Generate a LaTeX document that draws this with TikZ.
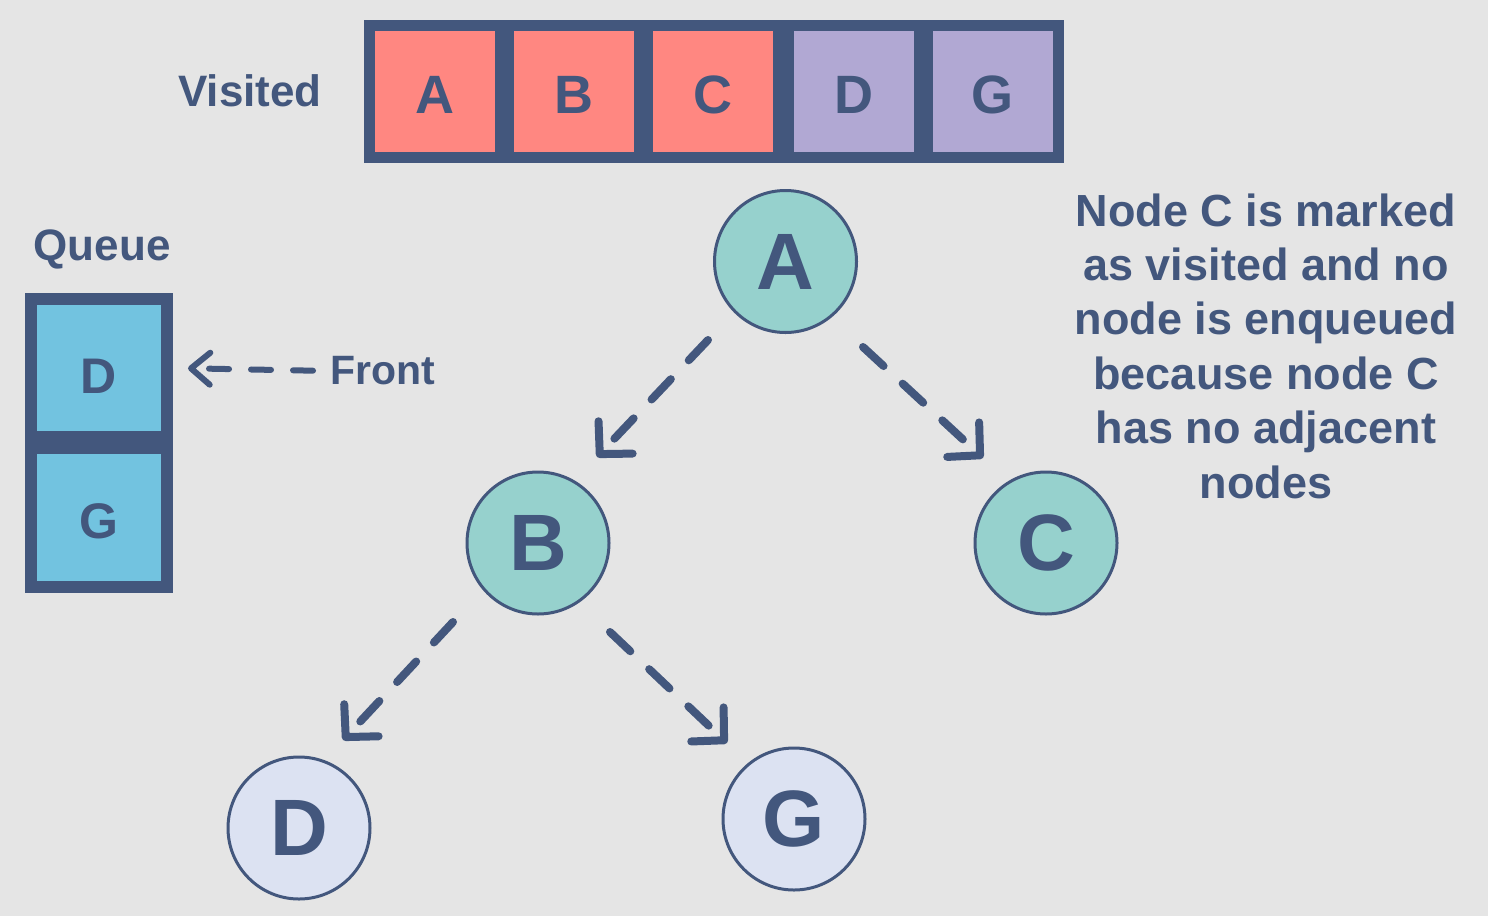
\documentclass[tikz,border=0pt]{standalone}
\usepackage{fontspec}
\setmainfont{Liberation Sans}
\usetikzlibrary{arrows.meta,calc}

\definecolor{ink}{HTML}{43577D}
\definecolor{paper}{HTML}{E5E5E5}
\definecolor{visitedred}{HTML}{FF8781}
\definecolor{visitedpurple}{HTML}{B1A8D3}
\definecolor{queuecyan}{HTML}{72C3E0}
\definecolor{treeteal}{HTML}{96D1CD}
\definecolor{treepale}{HTML}{DCE2F2}

\newcommand{\fsz}[1]{\fontsize{#1}{#1}\selectfont\bfseries}

\tikzset{
  vbox/.style={draw=ink, line width=11pt, minimum width=131pt, minimum height=132pt,
    inner sep=0pt, text=ink, font=\fsz{54}, text height=44pt, text depth=0pt},
  qbox/.style={draw=ink, line width=12pt, minimum width=136pt, minimum height=138pt,
    inner sep=0pt, text=ink, font=\fsz{50}, text depth=0pt},
  treenode/.style={circle, draw=ink, line width=3pt, minimum size=142pt,
    inner sep=0pt, text=ink, font=\fsz{80}},
  caption/.style={text=ink, inner sep=0pt},
  treeedge/.style={draw=ink, line width=8pt, line cap=round, dash pattern=on 28pt off 26pt,
    -{Straight Barb[length=23pt, width=47pt, round]}},
  frontedge/.style={draw=ink, line width=6pt, line cap=round, dash pattern=on 20pt off 22pt,
    -{Straight Barb[length=19pt, width=32pt, round]}},
}

\begin{document}
\begin{tikzpicture}[x=1pt, y=-1pt]
  \fill[paper] (0,0) rectangle (1488,916);
  \useasboundingbox (0,0) rectangle (1488,916);

  % visited list
  \node[caption, font=\fsz{44}] (vlabel) at (250,91) {Visited};
  \node[vbox, fill=visitedred]    (vA) at (435,91.5)   {A};
  \node[vbox, fill=visitedred]    (vB) at (574,91.5)   {B};
  \node[vbox, fill=visitedred]    (vC) at (713,91.5)   {C};
  \node[vbox, fill=visitedpurple] (vD) at (853.5,91.5) {D};
  \node[vbox, fill=visitedpurple] (vG) at (992.5,91.5) {G};

  % queue
  \node[caption, font=\fsz{44}] (qlabel) at (102,249) {Queue};
  \node[qbox, fill=queuecyan, text height=50pt] (qD) at (99,368) {D};
  \node[qbox, fill=queuecyan, text height=42pt, minimum height=139pt] (qG) at (99,517) {G};
  \node[caption, font=\fsz{41}, anchor=west] (front) at (330,371) {Front};
  \draw[frontedge, shorten <=17pt, shorten >=15pt] (front.west) -- (qD.east);

  % tree
  \node[treenode, fill=treeteal] (A) at (785.5,261.5) {A};
  \node[treenode, fill=treeteal] (B) at (538,543)     {B};
  \node[treenode, fill=treeteal] (C) at (1046,543)    {C};
  \node[treenode, fill=treepale] (D) at (299,828)     {D};
  \node[treenode, fill=treepale] (G) at (794,819)     {G};

  \draw[treeedge] ($(A)+(-77.5,78.5)$) -- ($(B)+(59,-86)$);
  \draw[treeedge] ($(A)+(77.5,85.5)$)  -- ($(C)+(-63,-85)$);
  \draw[treeedge] ($(B)+(-85,79)$)     -- ($(D)+(44,-88)$);
  \draw[treeedge] ($(B)+(72,89)$)      -- ($(G)+(-67,-76)$);

  % explanation
  \node[caption, align=center, font=\fontsize{45}{54.4}\selectfont\bfseries] (note) at (1266,346)
    {Node C is marked\\as visited and no\\node is enqueued\\because node C\\has no adjacent\\nodes};
\end{tikzpicture}
\end{document}
